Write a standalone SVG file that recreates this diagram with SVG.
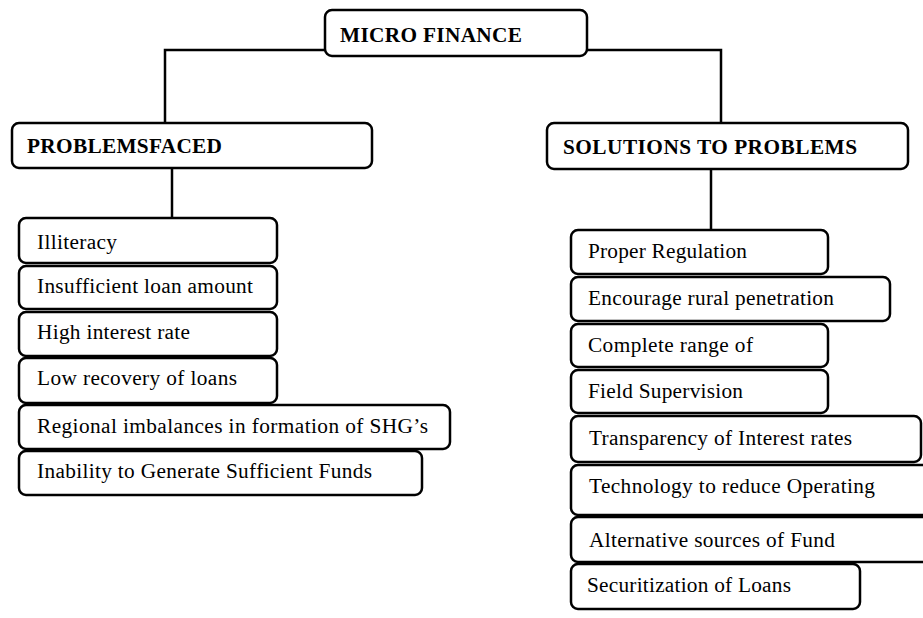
<svg xmlns="http://www.w3.org/2000/svg" width="923" height="618" viewBox="0 0 923 618">
<style>
.box{fill:#fff;stroke:#000;stroke-width:2.5}
.con{fill:none;stroke:#000;stroke-width:2.5}
.t{font-family:'Liberation Serif','DejaVu Serif',serif;font-size:21.3px;fill:#000}
.h{font-weight:bold}
</style>
<rect width="923" height="618" fill="#fff"/>
<g id="connectors">
<path class="con" d="M326 50 H165 V123"/>
<path class="con" d="M586 50 H721 V123"/>
<path class="con" d="M172 168 V218"/>
<path class="con" d="M711 169 V230"/>
</g>
<g id="micro-finance"><rect class="box" x="325" y="10" width="262" height="46" rx="7"/><text class="t h" font-family="Liberation Serif, serif" x="340" y="42" textLength="182" lengthAdjust="spacing">MICRO FINANCE</text></g>
<g id="problems-faced"><rect class="box" x="12" y="123" width="360" height="45" rx="7"/><text class="t h" font-family="Liberation Serif, serif" x="27" y="153" textLength="195" lengthAdjust="spacing">PROBLEMSFACED</text></g>
<g id="solutions"><rect class="box" x="547" y="123" width="361" height="46" rx="7"/><text class="t h" font-family="Liberation Serif, serif" x="563" y="154" textLength="294" lengthAdjust="spacing">SOLUTIONS TO PROBLEMS</text></g>

<g id="p1"><rect class="box" x="19" y="218" width="258" height="45" rx="7"/><text class="t" font-family="Liberation Serif, serif" x="37" y="249" textLength="80" lengthAdjust="spacing">Illiteracy</text></g>
<g id="p2"><rect class="box" x="19" y="266" width="258" height="43" rx="7"/><text class="t" font-family="Liberation Serif, serif" x="37" y="293" textLength="216" lengthAdjust="spacing">Insufficient loan amount</text></g>
<g id="p3"><rect class="box" x="19" y="312" width="258" height="44" rx="7"/><text class="t" font-family="Liberation Serif, serif" x="37" y="339" textLength="153" lengthAdjust="spacing">High interest rate</text></g>
<g id="p4"><rect class="box" x="19" y="358" width="258" height="45" rx="7"/><text class="t" font-family="Liberation Serif, serif" x="37" y="385" textLength="200" lengthAdjust="spacing">Low recovery of loans</text></g>
<g id="p5"><rect class="box" x="19" y="405" width="431" height="44" rx="7"/><text class="t" font-family="Liberation Serif, serif" x="37" y="433" textLength="391" lengthAdjust="spacing">Regional imbalances in formation of SHG’s</text></g>
<g id="p6"><rect class="box" x="19" y="451" width="403" height="44" rx="7"/><text class="t" font-family="Liberation Serif, serif" x="37" y="478" textLength="335" lengthAdjust="spacing">Inability to Generate Sufficient Funds</text></g>

<g id="s1"><rect class="box" x="571" y="230" width="257" height="44" rx="7"/><text class="t" font-family="Liberation Serif, serif" x="588" y="258" textLength="159" lengthAdjust="spacing">Proper Regulation</text></g>
<g id="s2"><rect class="box" x="571" y="277" width="319" height="44" rx="7"/><text class="t" font-family="Liberation Serif, serif" x="588" y="305" textLength="246" lengthAdjust="spacing">Encourage rural penetration</text></g>
<g id="s3"><rect class="box" x="571" y="324" width="257" height="43" rx="7"/><text class="t" font-family="Liberation Serif, serif" x="588" y="352" textLength="165" lengthAdjust="spacing">Complete range of</text></g>
<g id="s4"><rect class="box" x="571" y="370" width="257" height="43" rx="7"/><text class="t" font-family="Liberation Serif, serif" x="588" y="398" textLength="155" lengthAdjust="spacing">Field Supervision</text></g>
<g id="s5"><rect class="box" x="571" y="416" width="350" height="46" rx="7"/><text class="t" font-family="Liberation Serif, serif" x="589" y="445" textLength="263" lengthAdjust="spacing">Transparency of Interest rates</text></g>
<g id="s6"><rect class="box" x="571" y="465" width="365" height="50" rx="7"/><text class="t" font-family="Liberation Serif, serif" x="589" y="493" textLength="286" lengthAdjust="spacing">Technology to reduce Operating</text></g>
<g id="s7"><rect class="box" x="571" y="517" width="365" height="45" rx="7"/><text class="t" font-family="Liberation Serif, serif" x="589" y="547" textLength="246" lengthAdjust="spacing">Alternative sources of Fund</text></g>
<g id="s8"><rect class="box" x="571" y="564" width="289" height="45" rx="7"/><text class="t" font-family="Liberation Serif, serif" x="587" y="592" textLength="204" lengthAdjust="spacing">Securitization of Loans</text></g>
</svg>
